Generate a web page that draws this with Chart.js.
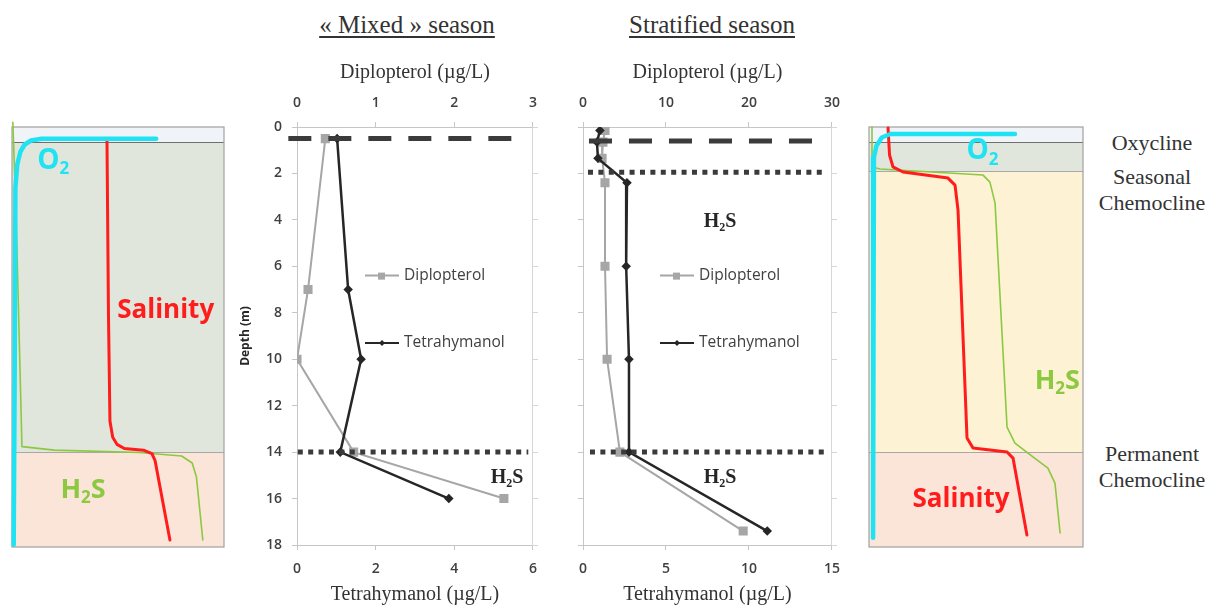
<!DOCTYPE html>
<html>
<head>
<meta charset="utf-8">
<script src="https://cdn.jsdelivr.net/npm/chart.js@4.4.1/dist/chart.umd.min.js"></script>
<style>
  body { margin: 0; background: #fff; width: 1207px; height: 607px; position: relative; overflow: hidden; font-family: "Liberation Serif", serif; }
  .box { position: absolute; }
  .title { position: absolute; top: 11px; font-size: 25px; color: #333; text-decoration: underline; text-underline-offset: 3px; transform: translateX(-50%); white-space: nowrap; }
  .side { position: absolute; left: 1152px; font-size: 22px; color: #333; transform: translate(-50%, -50%); white-space: nowrap; text-align: center; line-height: 26px; }
</style>
</head>
<body>
<div class="title" style="left:407px">« Mixed » season</div>
<div class="title" style="left:712px">Stratified season</div>
<div class="side" style="top:143px">Oxycline</div>
<div class="side" style="top:190px">Seasonal<br>Chemocline</div>
<div class="side" style="top:467px">Permanent<br>Chemocline</div>

<div class="box" style="left:6px;top:120px;width:224px;height:434px"><canvas id="leftPanel"></canvas></div>
<div class="box" style="left:230px;top:50px;width:318px;height:557px"><canvas id="mixed"></canvas></div>
<div class="box" style="left:560px;top:50px;width:291px;height:557px"><canvas id="strat"></canvas></div>
<div class="box" style="left:863px;top:120px;width:226px;height:434px"><canvas id="rightPanel"></canvas></div>

<script>
// ---- mixed season (depth in m, concentrations in µg/L)
const mixDepth = [0.5, 7, 10, 14, 16];
const mixDiplo = [0.36, 0.14, 0, 0.72, 2.63];
const mixTetra = [1.02, 1.30, 1.63, 1.10, 3.86];
// ---- stratified season
const strDepth = [0.15, 0.65, 1.35, 2.4, 6, 10, 14, 17.4];
const strDiplo = [2.65, 2.4, 2.3, 2.65, 2.65, 2.9, 4.45, 19.3];
const strTetra = [1.02, 0.84, 0.9, 2.65, 2.6, 2.77, 2.77, 11.1];

// reference lines: [depth, from, to] on the diplopterol axis
const mixOxycline = [0.5, -0.11, 2.89];
const mixChemo = [[14, 0.01, 2.94]];
const strOxycline = [0.6, 0.72, 27.9];
const strChemo = [[1.95, 0.6, 29.1], [14, 0.84, 29.4]];

// ---- schematic profiles (x = relative units 0-100, depth in m)
const leftBands = [0, 0.65, 13.95, 18];
const leftO2X = [68, 14, 9, 6, 4, 2.5, 1.6, 1.3, 0.8];
const leftO2D = [0.5, 0.5, 0.58, 0.75, 1.05, 1.6, 2.6, 10, 17.9];
const leftSalX = [44.8, 45.5, 46.2, 47.5, 49.5, 53, 62, 66, 67.5, 74.5];
const leftSalD = [0.5, 8, 12.6, 13.3, 13.6, 13.78, 13.85, 14.0, 14.3, 17.7];
const leftH2SX = [0.4, 2, 4.7, 20, 60, 80, 85, 87, 90];
const leftH2SD = [-0.2, 4, 13.7, 13.85, 13.95, 14.1, 14.4, 15, 17.7];

const rightBands = [0, 0.65, 1.9, 13.95, 18];
const rightO2X = [68.2, 10, 6, 3.5, 2.3, 1.9, 1.9];
const rightO2D = [0.3, 0.3, 0.45, 0.8, 1.3, 2, 17.6];
const rightSalX = [8.9, 9.6, 11.2, 15.9, 36.9, 40.2, 41.6, 45.8, 48.6, 64.5, 67.3, 73.8];
const rightSalD = [0.04, 1.2, 1.71, 1.93, 2.19, 2.49, 3.56, 13.33, 13.76, 13.93, 14.19, 17.49];
const rightH2SX = [1.4, 1.4, 5.1, 53.3, 56.5, 58.9, 64.5, 68.2, 76.6, 83.6, 86.9, 89.3];
const rightH2SD = [0, 1.71, 1.8, 2.06, 2.36, 3.26, 12.86, 13.55, 14.14, 14.62, 15.26, 17.4];

const pts = (xs, ds) => xs.map((v, i) => ({ x: v, y: ds[i] }));

const tickFont = { family: 'Open Sans', size: 14, weight: '600' };
const titleFont = { family: 'Liberation Serif', size: 20 };
const axisGrey = '#c6c6c6';
const dark = '#262626';
const grey = '#a6a6a6';

function chem(ctx, parts, cx, cy, size, family, weight, color) {
  const big = weight + ' ' + size + 'px ' + family;
  const small = weight + ' ' + Math.round(size * 0.62) + 'px ' + family;
  let w = 0;
  parts.forEach(p => { ctx.font = p[1] ? small : big; w += ctx.measureText(p[0]).width; });
  let x = cx - w / 2;
  ctx.fillStyle = color;
  ctx.textBaseline = 'middle';
  ctx.textAlign = 'left';
  parts.forEach(p => {
    ctx.font = p[1] ? small : big;
    ctx.fillText(p[0], x, cy + (p[1] ? size * 0.3 : 0));
    x += ctx.measureText(p[0]).width;
  });
}

const overlay = {
  id: 'overlay',
  afterDraw(chart, args, o) {
    const { ctx, chartArea } = chart;
    const y = chart.scales.y;
    ctx.save();
    // inline legend
    o.legend.forEach(item => {
      const py = y.getPixelForValue(item.depth);
      const x0 = chartArea.left + o.legendX;
      ctx.strokeStyle = item.color;
      ctx.lineWidth = 2;
      ctx.beginPath(); ctx.moveTo(x0, py); ctx.lineTo(x0 + 34, py); ctx.stroke();
      ctx.fillStyle = item.color;
      if (item.marker === 'rect') {
        ctx.fillRect(x0 + 13, py - 3, 7, 7);
      } else {
        ctx.beginPath();
        ctx.moveTo(x0 + 17, py - 3); ctx.lineTo(x0 + 20, py); ctx.lineTo(x0 + 17, py + 3); ctx.lineTo(x0 + 14, py);
        ctx.closePath(); ctx.fill();
      }
      ctx.fillStyle = '#404040';
      ctx.font = '15.5px "Open Sans"';
      ctx.textBaseline = 'middle';
      ctx.textAlign = 'left';
      ctx.fillText(item.label, x0 + 39, py);
    });
    // H2S labels
    o.h2s.forEach(h => {
      chem(ctx, [['H', 0], ['2', 1], ['S', 0]], chartArea.left + h.dx, y.getPixelForValue(h.depth), 20, '"Liberation Serif"', 'bold', dark);
    });
    ctx.restore();
  }
};

function refLine(r, dash, width) {
  return {
    data: [{ x: r[1], y: r[0] }, { x: r[2], y: r[0] }],
    xAxisID: 'xTop', yAxisID: 'y', showLine: true,
    borderColor: '#3b3b3b', borderWidth: width, borderDash: dash,
    borderCapStyle: 'butt', pointRadius: 0, clip: false
  };
}

function profileChart(id, cfg) {
  const datasets = [refLine(cfg.oxy, [23, 17], 5)];
  cfg.chemo.forEach(c => datasets.push(refLine(c, [5, 5.4], 5)));
  datasets.push({
    label: 'Tetrahymanol', data: pts(cfg.tetra, cfg.depth), xAxisID: 'xBot', yAxisID: 'y',
    showLine: true, borderColor: dark, borderWidth: 2.5,
    pointStyle: 'rectRot', pointRadius: 3, pointBackgroundColor: dark, pointBorderColor: dark
  });
  datasets.push({
    label: 'Diplopterol', data: pts(cfg.diplo, cfg.depth), xAxisID: 'xTop', yAxisID: 'y',
    showLine: true, borderColor: grey, borderWidth: 2,
    pointStyle: 'rect', pointRadius: 5, pointBackgroundColor: grey, pointBorderColor: grey
  });
  return new Chart(document.getElementById(id), {
    type: 'scatter',
    data: { datasets },
    options: {
      responsive: true, maintainAspectRatio: false, animation: false,
      layout: { padding: 0 },
      plugins: { legend: { display: false }, tooltip: { enabled: false }, overlay: cfg.overlay },
      scales: {
        xTop: {
          type: 'linear', position: 'top', min: 0, max: cfg.topMax,
          ticks: { stepSize: cfg.topMax / 3, color: '#404040', font: tickFont, padding: 11 },
          grid: { drawOnChartArea: false, color: axisGrey, tickLength: 5 },
          border: { color: axisGrey },
          title: { display: true, text: 'Diplopterol (µg/L)', color: '#333', font: titleFont, padding: { top: 11, bottom: 0 } },
          afterFit: s => { s.height = 77; }
        },
        xBot: {
          type: 'linear', position: 'bottom', min: 0, max: cfg.botMax,
          ticks: { stepSize: cfg.botStep, color: '#404040', font: tickFont, padding: 11 },
          grid: { drawOnChartArea: false, color: axisGrey, tickLength: 5 },
          border: { color: axisGrey },
          title: { display: true, text: 'Tetrahymanol (µg/L)', color: '#333', font: titleFont, padding: { top: 0, bottom: 0 } },
          afterFit: s => { s.height = 62; }
        },
        y: {
          type: 'linear', position: 'left', min: 0, max: 18, reverse: true,
          ticks: { stepSize: 2, display: cfg.showDepth, color: '#404040', font: tickFont, padding: 10 },
          grid: { drawOnChartArea: false, color: axisGrey, tickLength: 5 },
          border: { color: axisGrey },
          title: { display: cfg.showDepth, text: 'Depth (m)', color: dark, font: { family: 'Open Sans', size: 12, weight: 'bold' }, padding: { top: 8, bottom: 0 } },
          afterFit: s => { s.width = cfg.leftW; }
        },
        y2: {
          type: 'linear', position: 'right', min: 0, max: 18, reverse: true,
          ticks: { stepSize: 2, display: false },
          grid: { drawOnChartArea: false, color: '#d6d6d6', tickLength: 5 },
          border: { color: '#d6d6d6' },
          afterFit: s => { s.width = 8; }
        }
      }
    },
    plugins: [overlay]
  });
}

profileChart('mixed', {
  depth: mixDepth, diplo: mixDiplo, tetra: mixTetra,
  oxy: mixOxycline, chemo: mixChemo,
  topMax: 3, botMax: 6, botStep: 2, showDepth: true, leftW: 67,
  overlay: {
    legendX: 68,
    legend: [
      { label: 'Diplopterol', depth: 6.4, color: grey, marker: 'rect' },
      { label: 'Tetrahymanol', depth: 9.3, color: dark, marker: 'diamond' }
    ],
    h2s: [{ dx: 210, depth: 15.1 }]
  }
});

profileChart('strat', {
  depth: strDepth, diplo: strDiplo, tetra: strTetra,
  oxy: strOxycline, chemo: strChemo,
  topMax: 30, botMax: 15, botStep: 5, showDepth: false, leftW: 23,
  overlay: {
    legendX: 77,
    legend: [
      { label: 'Diplopterol', depth: 6.4, color: grey, marker: 'rect' },
      { label: 'Tetrahymanol', depth: 9.3, color: dark, marker: 'diamond' }
    ],
    h2s: [{ dx: 137, depth: 4.1 }, { dx: 137, depth: 15.1 }]
  }
});

// ---- schematic panels
const panelDeco = {
  id: 'panelDeco',
  beforeDatasetsDraw(chart, args, o) {
    const { ctx, chartArea: a } = chart;
    const y = chart.scales.y;
    ctx.save();
    for (let i = 0; i < o.bands.length - 1; i++) {
      const y0 = y.getPixelForValue(o.bands[i]);
      const y1 = y.getPixelForValue(o.bands[i + 1]);
      ctx.fillStyle = o.colors[i];
      ctx.fillRect(a.left, y0, a.right - a.left, y1 - y0);
      if (i > 0) {
        ctx.strokeStyle = i === 1 ? '#6f6f6f' : '#a8a8a8';
        ctx.lineWidth = 1;
        ctx.beginPath(); ctx.moveTo(a.left, Math.round(y0) + 0.5); ctx.lineTo(a.right, Math.round(y0) + 0.5); ctx.stroke();
      }
    }
    ctx.strokeStyle = '#a0a0a0';
    ctx.lineWidth = 1.2;
    ctx.strokeRect(a.left, a.top, a.right - a.left, a.bottom - a.top);
    ctx.restore();
  },
  afterDraw(chart, args, o) {
    const { ctx } = chart;
    const xs = chart.scales.x, y = chart.scales.y;
    ctx.save();
    o.labels.forEach(l => {
      chem(ctx, l.parts, xs.getPixelForValue(l.x), y.getPixelForValue(l.d), l.size, '"Open Sans"', 'bold', l.color);
    });
    ctx.restore();
  }
};

const cyan = '#1fe3f3', red = '#ff1c1c', green = '#8cc840';

function panel(id, cfg) {
  const line = (xs, ds, color, w) => ({
    data: pts(xs, ds), showLine: true, borderColor: color, borderWidth: w,
    pointRadius: 0, borderCapStyle: 'round', borderJoinStyle: 'round', clip: false
  });
  return new Chart(document.getElementById(id), {
    type: 'scatter',
    data: {
      datasets: [
        line(cfg.o2[0], cfg.o2[1], cyan, 4.5),
        line(cfg.sal[0], cfg.sal[1], red, 3),
        line(cfg.h2s[0], cfg.h2s[1], green, 1.6)
      ]
    },
    options: {
      responsive: true, maintainAspectRatio: false, animation: false,
      layout: { padding: { left: 6, right: 6, top: 7, bottom: 7 } },
      plugins: { legend: { display: false }, tooltip: { enabled: false }, panelDeco: cfg.deco },
      scales: {
        x: { type: 'linear', min: 0, max: 100, display: false },
        y: { type: 'linear', min: 0, max: 18, reverse: true, display: false }
      }
    },
    plugins: [panelDeco]
  });
}

panel('leftPanel', {
  o2: [leftO2X, leftO2D], sal: [leftSalX, leftSalD], h2s: [leftH2SX, leftH2SD],
  deco: {
    bands: leftBands, colors: ['#f0f3f8', '#e1e6dc', '#fbe5d8'],
    labels: [
      { parts: [['O', 0], ['2', 1]], x: 19.5, d: 1.45, size: 28, color: cyan },
      { parts: [['Salinity', 0]], x: 72.5, d: 7.85, size: 26, color: red },
      { parts: [['H', 0], ['2', 1], ['S', 0]], x: 33.5, d: 15.55, size: 27, color: green }
    ]
  }
});

panel('rightPanel', {
  o2: [rightO2X, rightO2D], sal: [rightSalX, rightSalD], h2s: [rightH2SX, rightH2SD],
  deco: {
    bands: rightBands, colors: ['#f0f3f8', '#e1e6dc', '#fdf2d3', '#fbe5d8'],
    labels: [
      { parts: [['O', 0], ['2', 1]], x: 53, d: 1.05, size: 28, color: cyan },
      { parts: [['H', 0], ['2', 1], ['S', 0]], x: 88, d: 10.9, size: 27, color: green },
      { parts: [['Salinity', 0]], x: 43, d: 15.95, size: 26, color: red }
    ]
  }
});
</script>
</body>
</html>
